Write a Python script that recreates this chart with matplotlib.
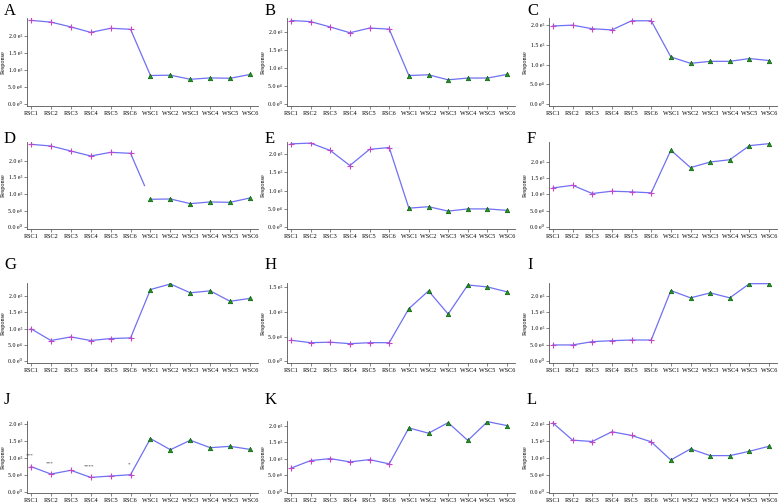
import matplotlib
matplotlib.use('Agg')
import matplotlib.pyplot as plt

plt.rcParams['font.family'] = ['Liberation Serif', 'DejaVu Serif']

# sample groups
groups = ['RSC1', 'RSC2', 'RSC3', 'RSC4', 'RSC5', 'RSC6',
          'WSC1', 'WSC2', 'WSC3', 'WSC4', 'WSC5', 'WSC6']

# responses, in units of 1e5
A = [2.45, 2.40, 2.26, 2.10, 2.22, 2.19, 0.84, 0.85, 0.73, 0.77, 0.76, 0.87]
B = [2.33, 2.30, 2.15, 1.99, 2.12, 2.09, 0.80, 0.82, 0.68, 0.73, 0.73, 0.83]
C = [1.97, 1.99, 1.90, 1.87, 2.10, 2.10, 1.19, 1.03, 1.08, 1.08, 1.15, 1.10]
D = [2.49, 2.44, 2.29, 2.14, 2.25, 2.22, 0.84, 0.85, 0.71, 0.76, 0.75, 0.88]
E = [2.27, 2.29, 2.09, 1.68, 2.12, 2.17, 0.52, 0.56, 0.44, 0.50, 0.50, 0.46]
F = [1.20, 1.28, 1.03, 1.10, 1.08, 1.05, 2.35, 1.82, 1.99, 2.06, 2.49, 2.55]
G = [1.00, 0.64, 0.75, 0.64, 0.70, 0.72, 2.20, 2.37, 2.10, 2.16, 1.84, 1.93]
H = [0.43, 0.38, 0.39, 0.36, 0.38, 0.38, 1.07, 1.43, 0.96, 1.55, 1.51, 1.41]
I = [0.50, 0.50, 0.60, 0.63, 0.65, 0.65, 2.15, 1.93, 2.08, 1.93, 2.36, 2.36]
J = [0.74, 0.52, 0.63, 0.42, 0.46, 0.50, 1.57, 1.24, 1.52, 1.30, 1.34, 1.25]
K = [0.71, 0.94, 1.00, 0.90, 0.97, 0.84, 1.93, 1.77, 2.09, 1.55, 2.12, 2.00]
L = [2.04, 1.53, 1.49, 1.78, 1.67, 1.48, 0.94, 1.27, 1.07, 1.07, 1.20, 1.35]

J_stars = ['***', '***', '', '****', '', '*']

tick_vals = [0.0, 0.5, 1.0, 1.5, 2.0]
tick_txt = ['0.0 e\u2070', '5.0 e\u2074', '1.0 e\u2075', '1.5 e\u2075', '2.0 e\u2075']

panels = [('A', A, 2.52), ('B', B, 2.40), ('C', C, 2.17),
          ('D', D, 2.56), ('E', E, 2.32), ('F', F, 2.60),
          ('G', G, 2.40), ('H', H, 1.59), ('I', I, 2.38),
          ('J', J, 2.09), ('K', K, 2.14), ('L', L, 2.10)]

W, Hh = 784, 503
fig = plt.figure(figsize=(7.84, 5.03), dpi=100)

col_left = [27, 287, 549]
col_w = [231, 228, 228]
row_top = [18, 142, 283, 421]
row_bot = [106, 229, 363, 493]
letter_top = [3, 131, 257, 392]
letter_x = [3, 264, 526]

line_c = '#7070f4'
plus_c = '#c048c8'
tri_c = '#1f9a1f'

for k, (name, vals, ymax) in enumerate(panels):
    r, c = divmod(k, 3)
    ax = fig.add_axes([col_left[c] / W, 1 - row_bot[r] / Hh,
                       col_w[c] / W, (row_bot[r] - row_top[r]) / Hh])
    x = list(range(len(groups)))
    if name == 'D':
        # connecting segment stops short of WSC1 in the original
        f = 0.7
        ax.plot([5, 5 + f], [vals[5], vals[5] + f * (vals[6] - vals[5])],
                color=line_c, lw=0.9, zorder=1)
        ax.plot(x[:6], vals[:6], color=line_c, lw=0.9, zorder=1)
        ax.plot(x[6:], vals[6:], color=line_c, lw=0.9, zorder=1)
    else:
        ax.plot(x, vals, color=line_c, lw=0.9, zorder=1)
    ax.plot(x[:6], vals[:6], ls='none', marker='+', ms=5, mew=0.8,
            color=plus_c, zorder=2)
    ax.plot(x[6:], vals[6:], ls='none', marker='^', ms=3.2, mew=0.5,
            color=tri_c, mec='#0c5a0c', zorder=2)
    if name == 'J':
        for i, s in enumerate(J_stars):
            if s:
                ax.annotate(s, (i, vals[i]), xytext=(-1, 7),
                            textcoords='offset points', ha='center',
                            fontsize=3.8, color='#333333')

    ax.set_xlim(-0.2, 11.4)
    ax.set_ylim(-0.02 * ymax, ymax)
    ax.set_xticks(x)
    ax.set_xticklabels(groups, fontsize=4.4)
    tv = [t for t in tick_vals if t <= ymax]
    ax.set_yticks(tv)
    ax.set_yticklabels(tick_txt[:len(tv)], fontsize=4.2)
    ax.tick_params(length=2, width=0.5, pad=1.5, color='#555555')
    for s in ['top', 'right']:
        ax.spines[s].set_visible(False)
    for s in ['left', 'bottom']:
        ax.spines[s].set_linewidth(0.6)
        ax.spines[s].set_color('#555555')
    ax.set_ylabel('Response', fontsize=4.4, labelpad=2)

    fig.text((letter_x[c] + 1) / W, 1 - letter_top[r] / Hh, name,
             fontsize=12, va='top', ha='left')

fig.savefig('out.png', dpi=100)
